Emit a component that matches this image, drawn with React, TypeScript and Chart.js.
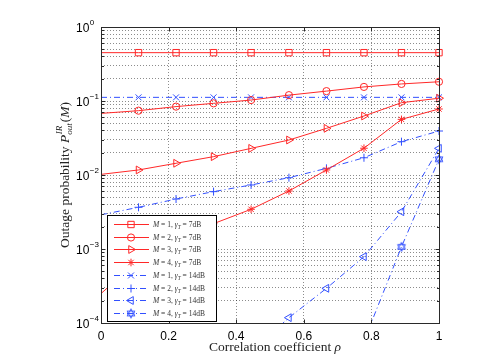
import React, { useEffect, useRef } from 'react';
import { Chart, registerables } from 'chart.js';
import { drawPoint } from 'chart.js/helpers';

Chart.register(...registerables);

// ---- data ----
const rho = [0, 0.111, 0.222, 0.333, 0.444, 0.556, 0.667, 0.778, 0.889, 1];

const outM1G7 = [0.45, 0.45, 0.45, 0.45, 0.45, 0.45, 0.45, 0.45, 0.45, 0.45];
const outM2G7 = [0.068, 0.074, 0.084, 0.093, 0.103, 0.12, 0.136, 0.155, 0.17, 0.182];
const outM3G7 = [0.0102, 0.0117, 0.0144, 0.0177, 0.0229, 0.0297, 0.0427, 0.0627, 0.0948, 0.109];
const outM4G7 = [0.00025, 0.0007, 0.0013, 0.0022, 0.00344, 0.00608, 0.0117, 0.023, 0.0565, 0.078];
const outM1G14 = [0.112, 0.112, 0.112, 0.112, 0.112, 0.112, 0.112, 0.112, 0.112, 0.112];
const outM2G14 = [0.0029, 0.00366, 0.00474, 0.00596, 0.00733, 0.0092, 0.0123, 0.0171, 0.0282, 0.0393];
const outM3G14 = [null, null, null, null, 0.00004, 0.000118, 0.000294, 0.000787, 0.00319, 0.0229];
const outM4G14 = [null, null, null, null, null, null, null, 0.000057, 0.00107, 0.0163];

const legendM = ['1', '2', '3', '4', '1', '2', '3', '4'];
const legendGamma = ['7dB', '7dB', '7dB', '7dB', '14dB', '14dB', '14dB', '14dB'];

const xTickValues = [0, 0.2, 0.4, 0.6, 0.8, 1];
const xTickLabels = ['0', '0.2', '0.4', '0.6', '0.8', '1'];
const yDecadeExponents = [0, -1, -2, -3, -4];
const yDecadeLabels = ['0', '\u22121', '\u22122', '\u22123', '\u22124'];
const yMinorMultipliers = [2, 3, 4, 5, 6, 7, 8, 9];

const xTitle = 'Correlation coefficient ';
const xTitleSymbol = '\u03c1';
const yTitle = 'Outage probability ';

// ---- styles ----
const RED = 'rgb(255,40,40)';
const BLUE = 'rgb(50,80,255)';
const DASHDOT = [6, 3, 1, 3];
const GRID = 'rgba(0,0,0,0.45)';
const SERIF = '"Liberation Serif", "DejaVu Serif", serif';
const SANS = '"Liberation Sans", Arial, sans-serif';

function makeHexagram(color: string): HTMLCanvasElement {
  const c = document.createElement('canvas');
  c.width = 12;
  c.height = 12;
  const g = c.getContext('2d')!;
  g.strokeStyle = color;
  g.lineWidth = 1;
  const cx = 6, cy = 6, r = 4.5;
  [-90, 90].forEach((start) => {
    g.beginPath();
    for (let i = 0; i < 3; i++) {
      const a = ((start + i * 120) * Math.PI) / 180;
      const px = cx + r * Math.cos(a);
      const py = cy + r * Math.sin(a);
      if (i === 0) g.moveTo(px, py);
      else g.lineTo(px, py);
    }
    g.closePath();
    g.stroke();
  });
  return c;
}

type Part = { t: string; it?: boolean; size: number; dy?: number };

function drawParts(ctx: CanvasRenderingContext2D, parts: Part[], x: number, y: number) {
  let cx = x;
  parts.forEach((p) => {
    ctx.font = `${p.it ? 'italic ' : ''}${p.size}px ${SERIF}`;
    ctx.fillText(p.t, cx, y + (p.dy || 0));
    cx += ctx.measureText(p.t).width;
  });
  return cx - x;
}

function measureParts(ctx: CanvasRenderingContext2D, parts: Part[]) {
  let w = 0;
  parts.forEach((p) => {
    ctx.font = `${p.it ? 'italic ' : ''}${p.size}px ${SERIF}`;
    w += ctx.measureText(p.t).width;
  });
  return w;
}

export default function App() {
  const ref = useRef<HTMLCanvasElement | null>(null);

  useEffect(() => {
    const canvas = ref.current;
    if (!canvas) return;
    const hex = makeHexagram(BLUE);

    const series = [
      { values: outM1G7, color: RED, dash: [] as number[], style: 'rect' as any, rot: 0, r: 4.5 },
      { values: outM2G7, color: RED, dash: [] as number[], style: 'circle' as any, rot: 0, r: 3.6 },
      { values: outM3G7, color: RED, dash: [] as number[], style: 'triangle' as any, rot: 90, r: 4.5 },
      { values: outM4G7, color: RED, dash: [] as number[], style: 'star' as any, rot: 0, r: 3.8 },
      { values: outM1G14, color: BLUE, dash: DASHDOT, style: 'crossRot' as any, rot: 0, r: 4.2 },
      { values: outM2G14, color: BLUE, dash: DASHDOT, style: 'cross' as any, rot: 0, r: 4 },
      { values: outM3G14, color: BLUE, dash: DASHDOT, style: 'triangle' as any, rot: -90, r: 4.5 },
      { values: outM4G14, color: BLUE, dash: DASHDOT, style: hex as any, rot: 0, r: 5 },
    ];

    const datasets = series.map((s, i) => ({
      label: `M = ${legendM[i]}, gamma = ${legendGamma[i]}`,
      data: rho
        .map((x, k) => ({ x, y: s.values[k] as number | null }))
        .filter((p) => p.y !== null) as { x: number; y: number }[],
      borderColor: s.color,
      borderWidth: 1,
      borderDash: s.dash,
      tension: 0,
      fill: false,
      pointStyle: s.style,
      pointRotation: s.rot,
      pointRadius: (c: any) => (c.raw && c.raw.x === 0 ? 0 : s.r),
      pointBorderColor: s.color,
      pointBackgroundColor: 'rgba(0,0,0,0)',
      pointBorderWidth: 1,
      clip: { left: 6, top: 6, right: 7, bottom: 0 },
    }));

    const decor = {
      id: 'decor',
      afterDraw(chart: any) {
        const ctx: CanvasRenderingContext2D = chart.ctx;
        const a = chart.chartArea;
        const xs = chart.scales.x;
        const ys = chart.scales.y;
        ctx.save();
        ctx.setLineDash([]);
        // box
        ctx.strokeStyle = '#2a2a2a';
        ctx.lineWidth = 1;
        const L = a.left + 0.5, R = a.right + 0.5, T = a.top + 0.5, B = a.bottom + 0.5;
        ctx.strokeRect(L, T, R - L, B - T);
        // inward ticks
        ctx.beginPath();
        xTickValues.forEach((v) => {
          const px = Math.round(xs.getPixelForValue(v)) + 0.5;
          ctx.moveTo(px, B); ctx.lineTo(px, B - 4);
          ctx.moveTo(px, T); ctx.lineTo(px, T + 4);
        });
        yDecadeExponents.forEach((e) => {
          const py = Math.round(ys.getPixelForValue(Math.pow(10, e))) + 0.5;
          ctx.moveTo(L, py); ctx.lineTo(L + 4, py);
          ctx.moveTo(R, py); ctx.lineTo(R - 4, py);
          if (e < 0) {
            yMinorMultipliers.forEach((m) => {
              const pm = Math.round(ys.getPixelForValue(m * Math.pow(10, e))) + 0.5;
              ctx.moveTo(L, pm); ctx.lineTo(L + 2.5, pm);
              ctx.moveTo(R, pm); ctx.lineTo(R - 2.5, pm);
            });
          }
        });
        ctx.stroke();

        // y tick labels 10^k
        ctx.fillStyle = '#000';
        ctx.textAlign = 'left';
        ctx.textBaseline = 'middle';
        yDecadeExponents.forEach((e, i) => {
          const py = ys.getPixelForValue(Math.pow(10, e));
          ctx.font = `12px ${SANS}`;
          ctx.fillText('10', 76, py + 1.5);
          const w = ctx.measureText('10').width;
          ctx.font = `8px ${SANS}`;
          ctx.fillText(yDecadeLabels[i], 76 + w + 0.5, py - 4);
        });

        // legend box
        const lx = a.left + 6, ly = 215, lw = 109, lh = 106;
        ctx.fillStyle = '#fff';
        ctx.fillRect(lx, ly, lw, lh);
        ctx.strokeStyle = '#000';
        ctx.lineWidth = 1;
        ctx.strokeRect(lx + 0.5, ly + 0.5, lw, lh);
        series.forEach((s, i) => {
          const ry = Math.round(ly + 9 + i * 12.7) + 0.5;
          ctx.save();
          ctx.strokeStyle = s.color;
          ctx.lineWidth = 1;
          ctx.setLineDash(s.dash);
          ctx.beginPath();
          ctx.moveTo(lx + 7, ry);
          ctx.lineTo(lx + 42, ry);
          ctx.stroke();
          ctx.setLineDash([]);
          ctx.fillStyle = 'rgba(0,0,0,0)';
          drawPoint(ctx, { pointStyle: s.style, rotation: s.rot, radius: s.r, borderWidth: 1 } as any, lx + 24, ry);
          ctx.restore();
          ctx.fillStyle = '#333';
          ctx.textBaseline = 'alphabetic';
          ctx.textAlign = 'left';
          const parts: Part[] = [
            { t: 'M', it: true, size: 7.5 },
            { t: ` = ${legendM[i]}, `, size: 7.5 },
            { t: '\u03b3', it: true, size: 7.5 },
            { t: 'T', it: true, size: 5.5, dy: 1.5 },
            { t: ` = ${legendGamma[i]}`, size: 7.5 },
          ];
          drawParts(ctx, parts, lx + 46, ry + 2.5);
        });

        // x title
        ctx.fillStyle = '#222';
        const xp: Part[] = [
          { t: xTitle, size: 13.5 },
          { t: xTitleSymbol, it: true, size: 13.5 },
        ];
        const xw = measureParts(ctx, xp);
        drawParts(ctx, xp, (a.left + a.right) / 2 - xw / 2 + 5, 351);

        // y title (rotated)
        ctx.save();
        ctx.translate(69, (a.top + a.bottom) / 2);
        ctx.rotate(-Math.PI / 2);
        const yp1: Part[] = [
          { t: yTitle, size: 13.5 },
          { t: 'P', it: true, size: 13.5 },
        ];
        const yp2: Part[] = [
          { t: '(', size: 13.5 },
          { t: 'M', it: true, size: 13.5 },
          { t: ')', size: 13.5 },
        ];
        ctx.font = `italic 9px ${SERIF}`;
        const subW = Math.max(ctx.measureText('out').width, ctx.measureText('IR').width);
        const total = measureParts(ctx, yp1) + subW + 1 + measureParts(ctx, yp2);
        let cx = -total / 2;
        cx += drawParts(ctx, yp1, cx, 0);
        ctx.font = `italic 9px ${SERIF}`;
        ctx.fillText('out', cx, 3);
        ctx.fillText('IR', cx + 0.5, -7);
        cx += subW + 1;
        drawParts(ctx, yp2, cx, 0);
        ctx.restore();

        ctx.restore();
      },
    };

    const chart = new Chart(canvas, {
      type: 'line',
      data: { datasets: datasets as any },
      options: {
        animation: false,
        responsive: false,
        maintainAspectRatio: false,
        layout: { padding: { left: 0, right: 46, top: 27, bottom: 0 } },
        plugins: { legend: { display: false }, tooltip: { enabled: false } },
        scales: {
          x: {
            type: 'linear',
            min: 0,
            max: 1,
            afterBuildTicks: (scale: any) => {
              scale.ticks = xTickValues.map((v) => ({ value: v }));
            },
            afterFit: (scale: any) => {
              scale.height = 41;
            },
            ticks: {
              autoSkip: false,
              maxRotation: 0,
              padding: 6,
              color: '#000',
              font: { family: SANS, size: 12 },
              callback: (_v: any, i: number) => xTickLabels[i],
            },
            grid: { color: GRID, lineWidth: 1, drawTicks: false },
            border: { display: false, dash: [1, 2] },
          },
          y: {
            type: 'logarithmic',
            min: 1e-4,
            max: 1,
            afterBuildTicks: (scale: any) => {
              const t: { value: number }[] = [];
              yDecadeExponents.forEach((e) => {
                t.push({ value: Math.pow(10, e) });
                if (e < 0) yMinorMultipliers.forEach((m) => t.push({ value: m * Math.pow(10, e) }));
              });
              scale.ticks = t.sort((p, q) => p.value - q.value);
            },
            afterFit: (scale: any) => {
              scale.width = 101;
            },
            ticks: { display: false },
            grid: { color: GRID, lineWidth: 1, drawTicks: false },
            border: { display: false, dash: [1, 2] },
          },
        },
      } as any,
      plugins: [decor],
    });
    return () => chart.destroy();
  }, []);

  return (
    <div style={{ position: 'fixed', left: 0, top: 0, width: 485, height: 364, background: '#fff' }}>
      <canvas ref={ref} width={485} height={364} style={{ width: 485, height: 364, display: 'block' }} />
    </div>
  );
}
